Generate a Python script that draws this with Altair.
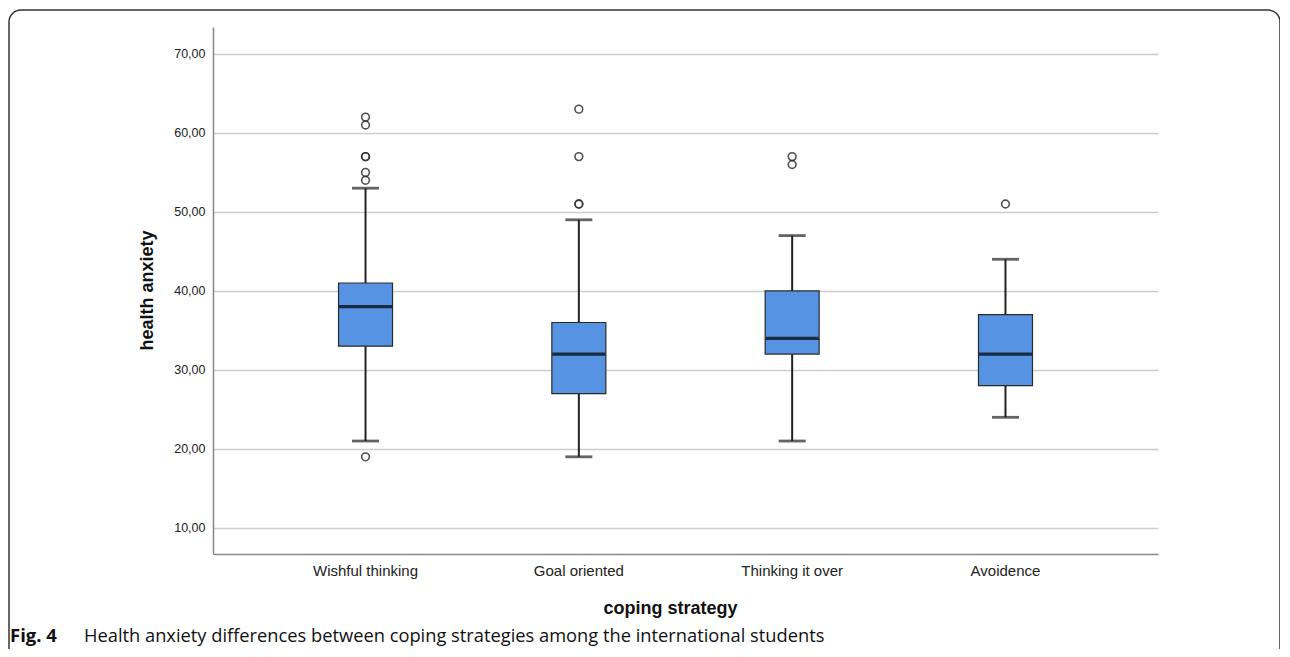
import altair as alt
import pandas as pd

categories = ["Wishful thinking", "Goal oriented", "Thinking it over", "Avoidence"]
lower_whisker = [21, 19, 21, 24]
q1 = [33, 27, 32, 28]
median = [38, 32, 34, 32]
q3 = [41, 36, 40, 37]
upper_whisker = [53, 49, 47, 44]

outlier_cat = ["Wishful thinking"] * 7 + ["Goal oriented"] * 4 + ["Thinking it over"] * 2 + ["Avoidence"]
outlier_val = [62, 61, 57, 57, 55, 54, 19, 63, 57, 51, 51, 57, 56, 51]

y_ticks = [10, 20, 30, 40, 50, 60, 70]

caption_bold = "Fig. 4"
caption_text = "Health anxiety differences between coping strategies among the international students"

box = pd.DataFrame({"cat": categories, "lo": lower_whisker, "q1": q1,
                    "med": median, "q3": q3, "hi": upper_whisker})
outl = pd.DataFrame({"cat": outlier_cat, "val": outlier_val})

W, H = 945, 527
xscale = alt.Scale(type="band", domain=categories, paddingInner=0, paddingOuter=0.215)
yscale = alt.Scale(domain=[6.7, 73.4], nice=False, zero=False)

xenc = alt.X("cat:N", scale=xscale, sort=categories,
             axis=alt.Axis(title="coping strategy", labelAngle=0, ticks=False, tickSize=0,
                           labelPadding=9, labelFontSize=15, labelColor="#222",
                           labelFont="Liberation Sans",
                           titleFont="Liberation Sans", titleFontSize=18, titleFontWeight="bold",
                           titleColor="#111", titleX=457, titleY=54, titleBaseline="middle",
                           domainColor="#888", domainWidth=1.5, grid=False))
yaxis = alt.Axis(title="health anxiety", values=y_ticks,
                 labelExpr="replace(format(datum.value, '.2f'), '.', ',')",
                 ticks=False, tickSize=0, labelPadding=8, labelFontSize=12.5,
                 labelColor="#222", labelFont="Liberation Sans",
                 titleFont="Liberation Sans", titleFontSize=18, titleFontWeight="bold",
                 titleColor="#111", titleX=-66, titleY=263, titleAngle=270,
                 titleAlign="center", titleBaseline="middle",
                 grid=True, gridColor="#cdcdcd", gridWidth=1.5,
                 domainColor="#888", domainWidth=1.5)

base = alt.Chart(box)

whisker = base.mark_rule(color="#222", strokeWidth=2).encode(
    x=xenc, y=alt.Y("lo:Q", scale=yscale, axis=yaxis), y2="hi:Q")

caps_lo = base.mark_tick(color="#222", thickness=2.8, size=27, orient="horizontal").encode(
    x=alt.X("cat:N", scale=xscale, sort=categories), y=alt.Y("lo:Q", scale=yscale))
caps_hi = base.mark_tick(color="#222", thickness=2.8, size=27, orient="horizontal").encode(
    x=alt.X("cat:N", scale=xscale, sort=categories), y=alt.Y("hi:Q", scale=yscale))

boxes = base.mark_bar(size=54, color="#5694e3", stroke="#2a2a2a", strokeWidth=1.2).encode(
    x=alt.X("cat:N", scale=xscale, sort=categories), y=alt.Y("q1:Q", scale=yscale), y2="q3:Q")

med = base.mark_tick(color="#000", thickness=3.2, size=53, orient="horizontal").encode(
    x=alt.X("cat:N", scale=xscale, sort=categories), y=alt.Y("med:Q", scale=yscale))

pts = alt.Chart(outl).mark_point(shape="circle", filled=False, size=60, color="#333",
                                 strokeWidth=1.6, opacity=0.85).encode(
    x=alt.X("cat:N", scale=xscale, sort=categories), y=alt.Y("val:Q", scale=yscale))

one = pd.DataFrame({"a": [caption_bold], "b": [caption_text]})
cap1 = alt.Chart(one).mark_text(align="left", baseline="alphabetic", fontSize=18.5, fontWeight="bold",
                                font="Open Sans", color="#111").encode(
    text="a:N", x=alt.value(-203), y=alt.value(615))
cap2 = alt.Chart(one).mark_text(align="left", baseline="alphabetic", fontSize=18.3,
                                font="Open Sans", color="#111").encode(
    text="b:N", x=alt.value(-129), y=alt.value(615))

border = alt.Chart(one).mark_rect(fill="transparent", stroke="#333", strokeWidth=1.5,
                                  cornerRadius=12).encode(
    x=alt.value(-204), x2=alt.value(1067), y=alt.value(-17), y2=alt.value(700))

chart = alt.layer(border, whisker, caps_lo, caps_hi, boxes, med, pts, cap1, cap2).properties(
    width=W, height=H,
    background="white",
    autosize=alt.AutoSizeParams(type="none"),
    padding={"left": 205, "top": 19, "right": 122, "bottom": 95},
).configure_view(strokeWidth=0)

chart.save("out.html", embed_options={"renderer": "svg", "actions": False})
